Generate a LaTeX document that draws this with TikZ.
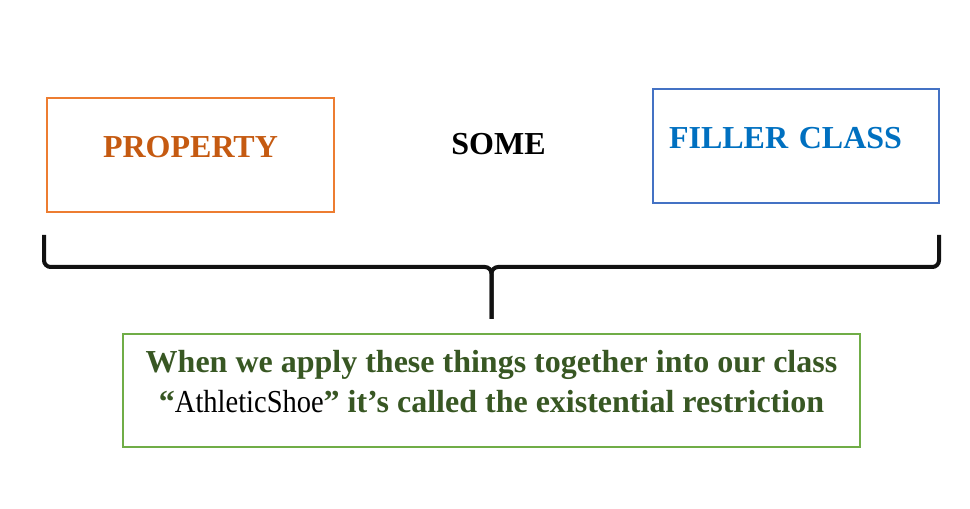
\documentclass[tikz,border=0pt]{standalone}
\usepackage{fontspec}
\setmainfont{Liberation Serif}
\newfontfamily\narrowserif[FakeStretch=0.89]{Liberation Serif}
\usepackage{tikz}
\usetikzlibrary{positioning,calc}

\definecolor{propertyorange}{HTML}{C55A11}
\definecolor{propertyborder}{HTML}{ED7D31}
\definecolor{fillerblue}{HTML}{0070C0}
\definecolor{fillerborder}{HTML}{4472C4}
\definecolor{restrictiongreen}{HTML}{385723}
\definecolor{restrictionborder}{HTML}{70AD47}
\definecolor{braceblack}{HTML}{111111}

\begin{document}
\begin{tikzpicture}[x=0.75pt, y=-0.75pt]
        \tikzset{
            word/.style={font=\fontsize{24pt}{30pt}\selectfont\bfseries, inner sep=0pt},
            partbox/.style={draw, line width=1.1pt, word, minimum width=215pt, minimum height=85.5pt, text depth=12.5pt},
            restrictionbox/.style={draw=restrictionborder, line width=1.1pt, word, align=center, text=restrictiongreen, minimum width=552.75pt, minimum height=84.75pt, text depth=13.3pt},
            bracket/.style={draw=braceblack, line width=3pt, rounded corners=5pt},
        }

        \useasboundingbox (0,0) rectangle (970,509);

        \node[partbox, draw=propertyborder, text=propertyorange] (property) at (190.5,155) {PROPERTY};
        \node[word, anchor=base] (some) at (498.5,155) {SOME};
        \node[partbox, draw=fillerborder, text=fillerblue, minimum width=214.5pt, text width=190.5pt, align=left, inner xsep=12pt] (filler) at (796,146) {FILLER CLASS};

        % brace over the three parts
        \coordinate (braceleft) at (44,235);
        \coordinate (braceright) at (939,235);
        \coordinate (bracejoin) at (491.5,267);
        \coordinate (bracetip) at (491.5,319);
        \draw[bracket] (braceleft) |- (bracejoin) -- (bracetip);
        \draw[bracket] (braceright) |- (bracejoin) -- (bracetip);

        \node[restrictionbox] (restriction) at (491.5,390.5)
            {When we apply these things together into our class\\
             \textcolor{restrictiongreen}{``}{\color{black}\mdseries\narrowserif AthleticShoe}'' it’s called the existential restriction};
    \end{tikzpicture}
\end{document}
